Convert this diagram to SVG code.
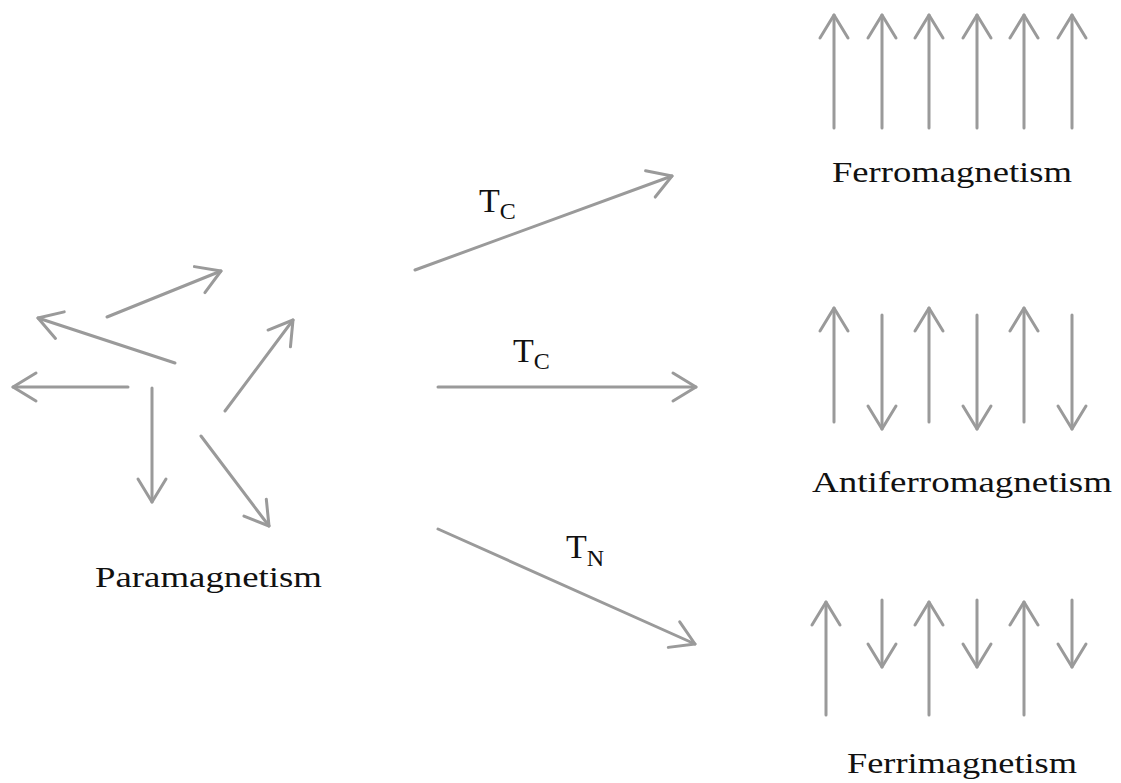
<svg xmlns="http://www.w3.org/2000/svg" width="1121" height="783" viewBox="0 0 1121 783">
<style>
.a{stroke:#9a9a9a;stroke-width:3;fill:none;stroke-linecap:round;marker-end:url(#h)}
.lbl{font-family:"Liberation Serif","Times New Roman",serif;font-size:29px;fill:#111}
.t{font-family:"Liberation Serif","Times New Roman",serif;font-size:34px;fill:#111}
.s{font-size:24px}
</style>
<defs>
<marker id="h" markerUnits="userSpaceOnUse" viewBox="-26 -16 28 32" refX="0" refY="0" markerWidth="28" markerHeight="32" orient="auto" overflow="visible">
<path d="M-23,-14 L0,0 L-23,14" fill="none" stroke="#9a9a9a" stroke-width="3" stroke-linecap="round" stroke-linejoin="round"/>
</marker>
</defs>
<rect width="1121" height="783" fill="#fff"/>
<g id="paramagnetism">
<line class="a" x1="107" y1="317" x2="221" y2="271"/>
<line class="a" x1="175" y1="363" x2="38" y2="318"/>
<line class="a" x1="128" y1="387" x2="13" y2="387"/>
<line class="a" x1="152" y1="388" x2="152" y2="502"/>
<line class="a" x1="225" y1="411" x2="293" y2="320"/>
<line class="a" x1="201" y1="436" x2="269" y2="526"/>
<text class="lbl" x="95" y="587" textLength="227" lengthAdjust="spacingAndGlyphs">Paramagnetism</text>
</g>
<g id="ferromagnetism">
<line class="a" x1="834" y1="128" x2="834" y2="15"/>
<line class="a" x1="882" y1="128" x2="882" y2="15"/>
<line class="a" x1="929" y1="128" x2="929" y2="15"/>
<line class="a" x1="977" y1="128" x2="977" y2="15"/>
<line class="a" x1="1024" y1="128" x2="1024" y2="15"/>
<line class="a" x1="1072" y1="128" x2="1072" y2="15"/>
<text class="lbl" x="832" y="182" textLength="240" lengthAdjust="spacingAndGlyphs">Ferromagnetism</text>
</g>
<g id="antiferromagnetism">
<line class="a" x1="834" y1="422" x2="834" y2="308"/>
<line class="a" x1="882" y1="315" x2="882" y2="429"/>
<line class="a" x1="929" y1="422" x2="929" y2="308"/>
<line class="a" x1="977" y1="315" x2="977" y2="429"/>
<line class="a" x1="1024" y1="422" x2="1024" y2="308"/>
<line class="a" x1="1072" y1="315" x2="1072" y2="429"/>
<text class="lbl" x="812" y="492" textLength="300" lengthAdjust="spacingAndGlyphs">Antiferromagnetism</text>
</g>
<g id="ferrimagnetism">
<line class="a" x1="826" y1="715" x2="826" y2="602"/>
<line class="a" x1="882" y1="600" x2="882" y2="667"/>
<line class="a" x1="929" y1="715" x2="929" y2="602"/>
<line class="a" x1="977" y1="600" x2="977" y2="667"/>
<line class="a" x1="1024" y1="715" x2="1024" y2="602"/>
<line class="a" x1="1072" y1="600" x2="1072" y2="667"/>
<text class="lbl" x="847" y="773" textLength="230" lengthAdjust="spacingAndGlyphs">Ferrimagnetism</text>
</g>
<g id="connectors">
<line class="a" x1="415" y1="270" x2="672" y2="176"/>
<line class="a" x1="438" y1="387" x2="696" y2="387"/>
<line class="a" x1="438" y1="529" x2="695" y2="644"/>
<text class="t" x="479" y="212">T<tspan class="s" y="219">C</tspan></text>
<text class="t" x="513" y="362">T<tspan class="s" y="369">C</tspan></text>
<text class="t" x="566" y="558">T<tspan class="s" y="566">N</tspan></text>
</g>
</svg>
